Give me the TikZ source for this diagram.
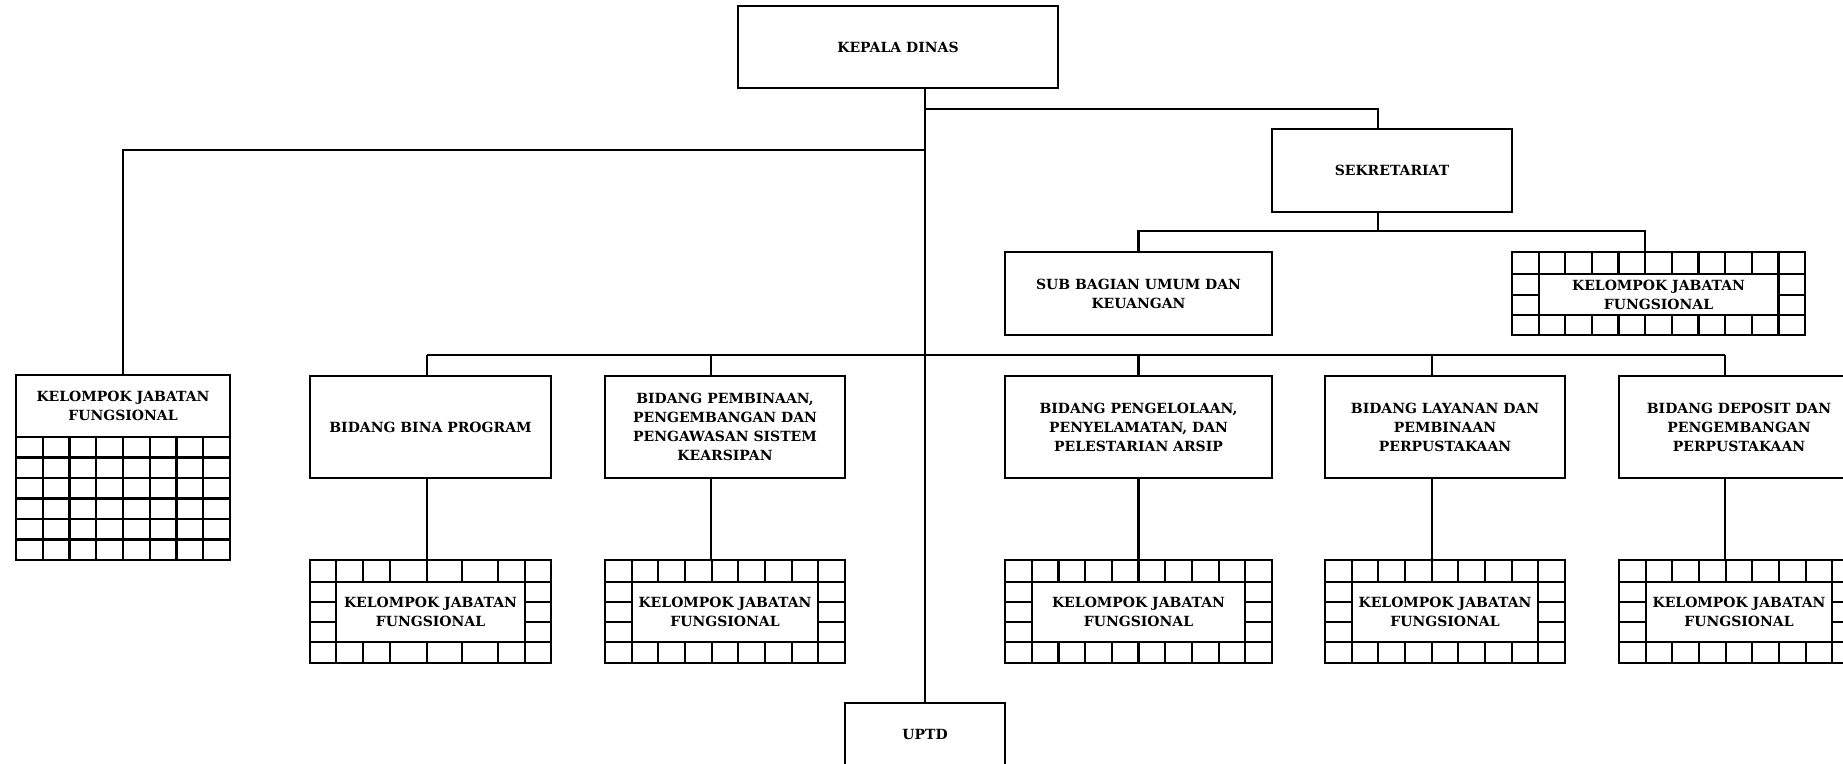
\documentclass[tikz,border=0pt]{standalone}
\usepackage{fontspec}
\setmainfont{DejaVu Serif}
\newcommand{\orgfont}{\bfseries\fontsize{14}{19}\selectfont}

% grid frame around an inner text box: #1 outer node, #2 inner node,
% #3 x positions of the column lines, #4 y positions of the side-cell lines
\newcommand{\kjfgrid}[4]{%
  \foreach \c in {#3} {
    \coordinate (gc) at (\c,0);
    \draw[gridline] (gc |- #1.north) -- (gc |- #2.north);
    \draw[gridline] (gc |- #2.south) -- (gc |- #1.south);
  }
  \draw[gridline] (#1.west |- #2.north) -- (#1.east |- #2.north);
  \draw[gridline] (#1.west |- #2.south) -- (#1.east |- #2.south);
  \foreach \s in {#4} {
    \coordinate (gs) at (0,\s);
    \draw[gridline] (#1.west |- gs) -- (#2.west |- gs);
    \draw[gridline] (#2.east |- gs) -- (#1.east |- gs);
  }%
}

\begin{document}
\begin{tikzpicture}[x=1pt,y=-1pt,
  every node/.style={outer sep=0pt, inner sep=0pt},
  unit/.style={draw, line width=2.2pt, align=center, font=\orgfont},
  bidang/.style={unit, minimum width=240, minimum height=102},
  kjfouter/.style={unit, minimum height=103},
  kjfinner/.style={unit, minimum height=60},
  gridline/.style={line width=2.2pt},
  link/.style={line width=2.2pt}]

\useasboundingbox (0,0) rectangle (1843,763);

% top levels
\node[unit, minimum width=320, minimum height=82] (kepala) at (898,47) {KEPALA DINAS};
\node[unit, minimum width=240, minimum height=83] (sekretariat) at (1392,170.5) {SEKRETARIAT};
\node[unit, minimum width=267, minimum height=83] (subbag) at (1138.5,293.5) {SUB BAGIAN UMUM DAN\\KEUANGAN};
\node[unit, minimum width=293, minimum height=83] (kjfsek) at (1658.5,293.5) {};
\node[unit, minimum width=239.8, minimum height=41] (kjfsektext) at (1658.5,294.5) {KELOMPOK JABATAN\\FUNGSIONAL};
\kjfgrid{kjfsek}{kjfsektext}{1538.6,1565.3,1591.9,1618.5,1645.2,1671.8,1698.5,1725.1,1751.7,1778.4}{295}

% functional group on the left
\node[unit, minimum width=214, minimum height=185] (kjfleft) at (123,467.5) {};
\node[font=\orgfont, align=center] (kjflefttext) at (123,406) {KELOMPOK JABATAN\\FUNGSIONAL};
\foreach \r in {437,457.5,478,498.5,519,539.5} {
  \coordinate (gr) at (0,\r);
  \draw[gridline] (kjfleft.west |- gr) -- (kjfleft.east |- gr);
}
\foreach \c in {42.75,69.5,96.25,123,149.75,176.5,203.25} {
  \coordinate (gc) at (\c,437);
  \draw[gridline] (gc) -- (gc |- kjfleft.south);
}

% bidang row
\node[bidang, minimum width=241] (bina) at (430.5,427) {BIDANG BINA PROGRAM};
\node[bidang] (pembinaan) at (725,427) {BIDANG PEMBINAAN,\\PENGEMBANGAN DAN\\PENGAWASAN SISTEM\\KEARSIPAN};
\node[bidang, minimum width=267] (pengelolaan) at (1138.5,427) {BIDANG PENGELOLAAN,\\PENYELAMATAN, DAN\\PELESTARIAN ARSIP};
\node[bidang] (layanan) at (1445,427) {BIDANG LAYANAN DAN\\PEMBINAAN\\PERPUSTAKAAN};
\node[bidang] (deposit) at (1739,427) {BIDANG DEPOSIT DAN\\PENGEMBANGAN\\PERPUSTAKAAN};

% functional groups under each bidang
\node[kjfouter, minimum width=241] (kjfbina) at (430.5,611.5) {};
\node[kjfinner, minimum width=189] (kjfbinatext) at (430.5,612) {KELOMPOK JABATAN\\FUNGSIONAL};
\kjfgrid{kjfbina}{kjfbinatext}{336,363,390,427,462,498,525}{602,622}

\node[kjfouter, minimum width=240] (kjfpembinaan) at (725,611.5) {};
\node[kjfinner, minimum width=186.7] (kjfpembinaantext) at (725,612) {KELOMPOK JABATAN\\FUNGSIONAL};
\kjfgrid{kjfpembinaan}{kjfpembinaantext}{631.7,658.3,685,711.7,738.3,765,791.7,818.3}{602,622}

\node[kjfouter, minimum width=267] (kjfpengelolaan) at (1138.5,611.5) {};
\node[kjfinner, minimum width=213.6] (kjfpengelolaantext) at (1138.5,612) {KELOMPOK JABATAN\\FUNGSIONAL};
\kjfgrid{kjfpengelolaan}{kjfpengelolaantext}{1031.7,1058.4,1085.1,1111.8,1138.5,1165.2,1191.9,1218.6,1245.3}{602,622}

\node[kjfouter, minimum width=240] (kjflayanan) at (1445,611.5) {};
\node[kjfinner, minimum width=186.7] (kjflayanantext) at (1445,612) {KELOMPOK JABATAN\\FUNGSIONAL};
\kjfgrid{kjflayanan}{kjflayanantext}{1351.7,1378.3,1405,1431.7,1458.3,1485,1511.7,1538.3}{602,622}

\node[kjfouter, minimum width=240] (kjfdeposit) at (1739,611.5) {};
\node[kjfinner, minimum width=186.7] (kjfdeposittext) at (1739,612) {KELOMPOK JABATAN\\FUNGSIONAL};
\kjfgrid{kjfdeposit}{kjfdeposittext}{1645.7,1672.3,1699,1725.7,1752.3,1779,1805.7,1832.3}{602,622}

\node[unit, minimum width=160, minimum height=62] (uptd) at (925,734) {UPTD};

% connectors
\coordinate (jsek) at (925,109);
\coordinate (jleft) at (925,150);
\coordinate (sekx) at (1378,0);
\coordinate (sekbus) at (0,231);
\coordinate (kjfsekx) at (1645,0);
\coordinate (mainbus) at (0,355);
\coordinate (dbina) at (427,0);
\coordinate (dpembinaan) at (711,0);
\coordinate (dpengelolaan) at (1138.5,0);
\coordinate (dlayanan) at (1432,0);
\coordinate (ddeposit) at (1725,0);

\draw[link] (uptd.north |- kepala.south) -- (uptd.north);
\draw[link] (jsek) -| (sekx |- sekretariat.north);
\draw[link] (jleft) -| (kjfleft.north);
\draw[link] (sekx |- sekretariat.south) -- (sekx |- sekbus);
\draw[link] (subbag.north) |- (kjfsekx |- sekbus) -- (kjfsekx |- kjfsek.north);
\draw[link] (dbina |- mainbus) -- (ddeposit |- mainbus);
\foreach \d/\n in {dbina/bina, dpembinaan/pembinaan, dpengelolaan/pengelolaan, dlayanan/layanan, ddeposit/deposit} {
  \draw[link] (\d |- mainbus) -- (\d |- \n.north);
  \draw[link] (\d |- \n.south) -- (\d |- kjf\n.north);
}
\end{tikzpicture}
\end{document}
